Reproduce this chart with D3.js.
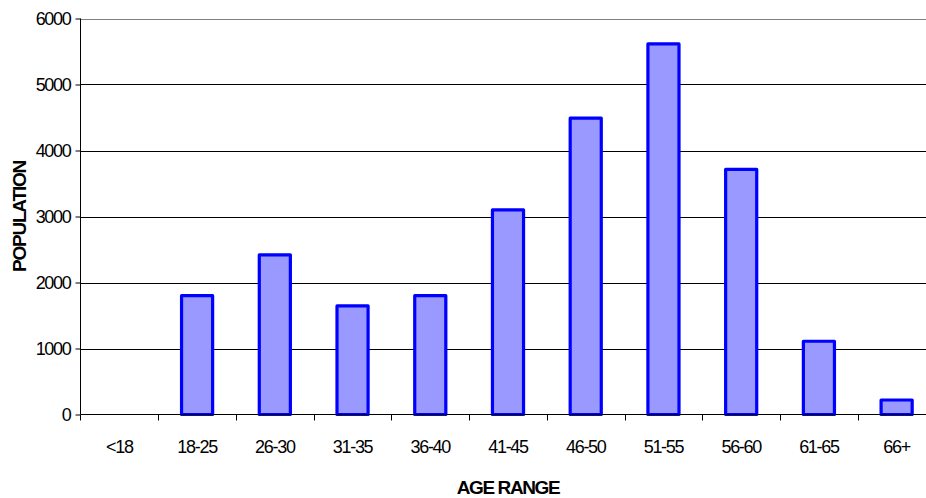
<!DOCTYPE html>
<html>
<head>
<meta charset="utf-8">
<script src="https://cdn.jsdelivr.net/npm/d3@7"></script>
<style>
  html, body { margin: 0; padding: 0; background: #fff; }
  svg { display: block; font-family: "Liberation Sans", Arial, sans-serif; }
</style>
</head>
<body>
<svg id="chart" width="926" height="498"></svg>
<script>
const categories = ["<18", "18-25", "26-30", "31-35", "36-40", "41-45", "46-50", "51-55", "56-60", "61-65", "66+"];
const population = [0, 1800, 2420, 1645, 1800, 3100, 4490, 5615, 3715, 1110, 220];
const yTicks = [0, 1000, 2000, 3000, 4000, 5000, 6000];
const xTitle = "AGE RANGE";
const yTitle = "POPULATION";

(function () {
const svg = d3.select("#chart");
const pLeft = 80.5, pRight = 935.5, pTop = 18.5, pBottom = 414.5;

const xCat = d3.scaleBand().domain(categories).range([pLeft, pRight]).padding(0);
const xBar = d3.scaleBand().domain(categories).range([pLeft, pRight]).paddingInner(0.6).paddingOuter(0.3);
const y = d3.scaleLinear().domain([0, 6000]).range([pBottom, pTop]);

// gridlines
svg.append("g").selectAll("line").data(yTicks.filter(d => d > 0)).join("line")
  .attr("x1", pLeft).attr("x2", 926)
  .attr("y1", d => Math.round(y(d)) + 0.5).attr("y2", d => Math.round(y(d)) + 0.5)
  .attr("stroke", d => d === 6000 ? "#808080" : "#000").attr("stroke-width", 1);

// bars
svg.append("g").selectAll("rect").data(categories.map((c, i) => ({c, v: population[i]})).filter(d => d.v > 0)).join("rect")
  .attr("x", d => xBar(d.c))
  .attr("width", xBar.bandwidth())
  .attr("y", d => y(d.v))
  .attr("height", d => y(0) - y(d.v))
  .attr("fill", "#9999ff")
  .attr("stroke", "#0000ff")
  .attr("stroke-width", 3.2)
  .attr("stroke-linejoin", "round");

// y axis
const yAxis = d3.axisLeft(y).tickValues(yTicks).tickSize(5).tickPadding(5).tickFormat(d3.format("d"));
const gy = svg.append("g").attr("transform", `translate(${pLeft},0)`).call(yAxis);
gy.select(".domain").attr("stroke", "#000").attr("d", `M0,${pTop}V${pBottom}`);
gy.selectAll(".tick line").attr("stroke", "#000");
gy.selectAll(".tick text").attr("font-size", 18).attr("letter-spacing", "-1.3px")
  .attr("font-family", "'Liberation Sans', Arial, sans-serif").attr("fill", "#000");

// x axis line
svg.append("line").attr("x1", pLeft).attr("x2", 926).attr("y1", pBottom).attr("y2", pBottom).attr("stroke", "#000");
// x boundary ticks
svg.append("g").selectAll("line").data(categories).join("line")
  .attr("x1", d => Math.round(xCat(d)) + 0.5).attr("x2", d => Math.round(xCat(d)) + 0.5)
  .attr("y1", pBottom).attr("y2", pBottom + 6).attr("stroke", "#000");
// x labels
const xAxis = d3.axisBottom(xCat).tickSize(0).tickPadding(0);
const gx = svg.append("g").attr("transform", `translate(0,${pBottom})`).call(xAxis);
gx.select(".domain").remove();
gx.selectAll(".tick text").attr("y", 32).attr("dy", "0.35em").attr("font-size", 18).attr("letter-spacing", "-1.3px")
  .attr("font-family", "'Liberation Sans', Arial, sans-serif").attr("fill", "#000");

// titles
svg.append("text").attr("x", (pLeft + pRight) / 2).attr("y", 494)
  .attr("text-anchor", "middle").attr("font-size", 19).attr("font-weight", "bold").attr("letter-spacing", "-1.4px")
  .text(xTitle);
svg.append("text").attr("transform", `translate(26,${(pTop + pBottom) / 2}) rotate(-90)`)
  .attr("text-anchor", "middle").attr("font-size", 19).attr("font-weight", "bold").attr("letter-spacing", "-1.2px")
  .text(yTitle);
})();
</script>
</body>
</html>
